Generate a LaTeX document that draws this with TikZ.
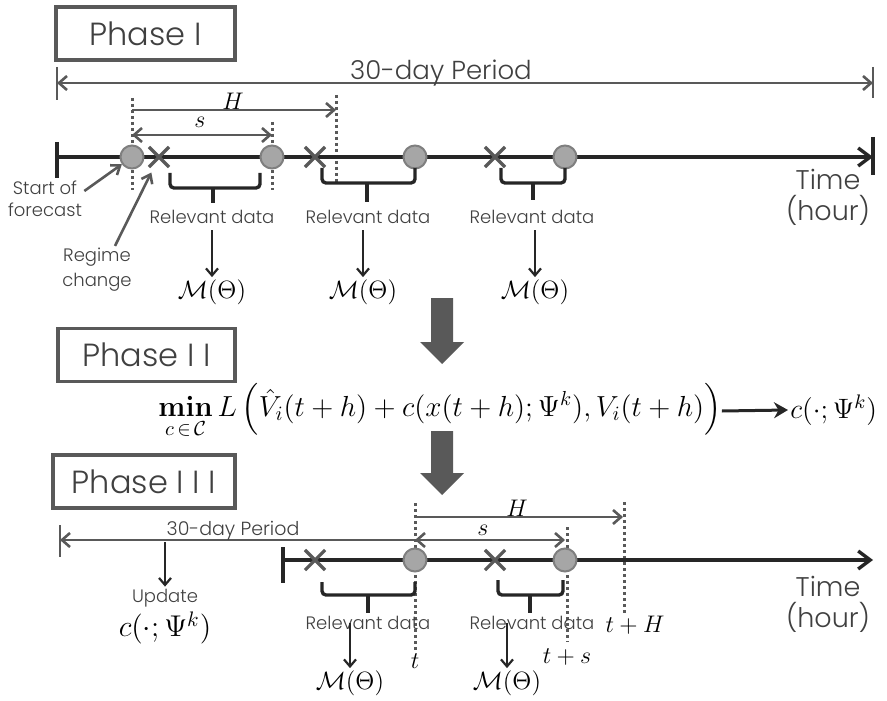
\documentclass[tikz,border=0pt]{standalone}
\usepackage{fix-cm}
\usepackage{amsmath}
\usepackage[no-math]{fontspec}
\setmainfont{Poppins}[UprightFont={* Light}]
\usetikzlibrary{arrows.meta,shapes.misc}
\definecolor{darkline}{HTML}{262626}
\definecolor{midgray}{HTML}{595959}
\definecolor{dotfill}{HTML}{A6A6A6}
\definecolor{dotedge}{HTML}{7F7F7F}
\definecolor{txtgray}{HTML}{404040}
\begin{document}
\begin{tikzpicture}
    [
    x=0.5pt, y=-0.5pt,
    phase/.style={draw=midgray,line width=1.6pt,text=txtgray,inner sep=0pt,minimum height=26.5pt,font=\fontsize{16}{19}\selectfont},
    point/.style={circle,draw=dotedge,fill=dotfill,line width=1pt,inner sep=0pt,minimum size=11.5pt},
    change/.style={cross out,draw=midgray,line width=1.6pt,inner sep=0pt,minimum size=8.5pt},
    timeline/.style={darkline,line width=1.7pt},
    span/.style={midgray,line width=1.3pt},
    guide/.style={midgray,line width=1.5pt,dash pattern=on 1.5pt off 1.5pt},
    brace/.style={darkline,line width=1.7pt,rounded corners=2pt},
    small/.style={text=txtgray,inner sep=1pt,font=\fontsize{9}{11}\selectfont},
    big/.style={text=txtgray,inner sep=1pt,font=\fontsize{13.5}{15.5}\selectfont},
    maths/.style={inner sep=1pt,font=\fontsize{12.5}{15}\selectfont},
    pointer/.style={midgray,line width=1.3pt,-{Straight Barb[length=4pt,width=6pt]}},
    down/.style={darkline,line width=1.1pt,-{Straight Barb[length=3.5pt,width=6pt]}},
    barb/.tip={Straight Barb[length=4pt,width=7pt]}
    ]
    \useasboundingbox (0,0) rectangle (887,700);
    % Phase I
    \node (ph1) at (145.5,33.5) [phase,minimum width=89.5pt] {Phase I};
    \draw [span] (57,67) -- (57,100);
    \draw [span] (873,67) -- (873,98);
    \coordinate (pl1) at (57,83);
    \coordinate (pr1) at (873,83);
    \draw [span,barb-barb] (pl1) -- (pr1);
    \node (per1) at (441,80) [anchor=base,text=txtgray,inner sep=0pt,font=\fontsize{13}{15}\selectfont] {30-day Period};
    \draw [guide] (132,98) -- (132,190);
    \draw [guide] (272,122) -- (272,190);
    \draw [guide] (336,95) -- (336,185);
    \draw [span,-barb] (132,110) -- (336,110);
    \draw [span,barb-barb] (132,135) -- (272,135);
    \node (h1) at (233,101) [maths,font=\fontsize{12}{14}\selectfont] {$H$};
    \node (s1) at (200,122) [maths,font=\fontsize{12}{14}\selectfont] {$s$};
    \draw [timeline] (57,142) -- (57,178);
    \draw [timeline] (873,137) -- (873,175);
    \coordinate (ts1) at (57,157);
    \coordinate (te1) at (873,157);
    \draw [timeline,-{Straight Barb[length=6pt,width=9pt]}] (ts1) -- (te1);
    \node (c1) at (132,157) [point] {};
    \node (c2) at (272,157) [point] {};
    \node (c3) at (415,157) [point] {};
    \node (c4) at (565,157) [point] {};
    \node (x1) at (159,157) [change] {};
    \node (x2) at (315,157) [change] {};
    \node (x3) at (495,157) [change] {};
    \draw [brace] (170,173) -- (170,188) -- (260,188) -- (260,173);
    \draw [brace] (213,187) -- (213,203);
    \draw [brace] (322,168) -- (322,183) -- (415,183) -- (415,168);
    \draw [brace] (367,182) -- (367,202);
    \draw [brace] (501,168) -- (501,183) -- (565,183) -- (565,168);
    \draw [brace] (533,182) -- (533,200);
    \node (rd1) at (212,217) [small] {Relevant data};
    \node (rd2) at (368,217) [small] {Relevant data};
    \node (rd3) at (532,217) [small] {Relevant data};
    \node (m1) at (212,292) [maths] {$\mathcal{M}(\Theta)$};
    \node (m2) at (363,292) [maths] {$\mathcal{M}(\Theta)$};
    \node (m3) at (535,292) [maths] {$\mathcal{M}(\Theta)$};
    \draw [down,shorten <=2pt] (m1 |- rd1.south) -- (m1.north);
    \draw [down,shorten <=2pt] (m2 |- rd2.south) -- (m2.north);
    \draw [down,shorten <=2pt] (m3 |- rd3.south) -- (m3.north);
    \node (sof) at (45,199) [small,align=center] {Start of\\forecast};
    \node (reg) at (97,270) [small,align=center,font=\fontsize{9}{12.5}\selectfont] {Regime\\change};
    \draw [pointer] ([yshift=4pt]sof.east) -- (c1);
    \draw [pointer,shorten >=3pt] ([xshift=9pt]reg.north) -- (x1);
    \node (time1) at (828,197) [big,align=center] {Time\\(hour)};
    % big arrows
    \fill [midgray] (431,298) -- (453,298) -- (453,342) -- (464,342) -- (442,364) -- (420,342) -- (431,342) -- cycle;
    \fill [midgray] (431,431) -- (453,431) -- (453,473) -- (464,473) -- (442,495) -- (420,473) -- (431,473) -- cycle;
    % Phase II
    \node (ph2) at (146.5,355) [phase,minimum width=88.5pt] {Phase I I};
    \node (loss) at (158,411) [anchor=west,inner sep=0pt,font=\fontsize{14.5}{17}\selectfont]
      {$\mathop{\mathbf{min}}\limits_{c\,\in\,\mathcal{C}} L\left(\hat{V}_i(t+h)+c(x(t+h);\Psi^k),V_i(t+h)\right)$};
    \node (psi1) at (788,410) [anchor=west,inner sep=1pt,font=\fontsize{14}{16}\selectfont] {$c(\cdot;\Psi^k)$};
    \draw [darkline,line width=1.5pt,-{Stealth[length=7pt,width=8pt]}] (loss.east) -- (psi1.west);
    % Phase III
    \node (ph3) at (144,481.5) [phase,minimum width=91pt] {Phase I I I};
    \draw [span] (60,525) -- (60,557);
    \coordinate (pl3) at (60,540);
    \coordinate (pr3) at (415,540);
    \draw [span,barb-] (pl3) -- (pr3);
    \node (per3) at (233,535) [anchor=base,text=txtgray,inner sep=0pt,font=\fontsize{9.5}{11}\selectfont] {30-day Period};
    \coordinate (pfoot) at (165,542);
    \node (upd) at (165,598) [small] {Update};
    \node (updc) at (165,628) [maths,font=\fontsize{15}{17}\selectfont] {$c(\cdot;\Psi^k)$};
    \draw [down] (pfoot) -- (upd.north);
    \draw [guide] (415,503) -- (415,650);
    \draw [guide] (567,527) -- (567,642);
    \draw [guide] (624,502) -- (624,613);
    \draw [span,-barb] (415,517) -- (623,517);
    \draw [span,barb-barb] (415,540) -- (565,540);
    \node (h3) at (517,508) [maths,font=\fontsize{12}{14}\selectfont] {$H$};
    \node (s3) at (483,530) [maths,font=\fontsize{12}{14}\selectfont] {$s$};
    \draw [timeline] (283,547) -- (283,583);
    \coordinate (ts3) at (283,560);
    \coordinate (te3) at (873,560);
    \draw [timeline,-{Straight Barb[length=6pt,width=9pt]}] (ts3) -- (te3);
    \node (p1) at (415,560) [point] {};
    \node (p2) at (565,560) [point] {};
    \node (y1) at (315,560) [change] {};
    \node (y2) at (495,560) [change] {};
    \draw [brace] (322,582) -- (322,595) -- (415,595) -- (415,582);
    \draw [brace] (368,594) -- (368,613);
    \draw [brace] (498,580) -- (498,595) -- (563,595) -- (563,580);
    \draw [brace] (530,594) -- (530,613);
    \node (rd4) at (368,623) [small] {Relevant data};
    \node (rd5) at (532,623) [small] {Relevant data};
    \node (m4) at (350,683) [maths] {$\mathcal{M}(\Theta)$};
    \node (m5) at (507,683) [maths] {$\mathcal{M}(\Theta)$};
    \draw [down] (m4 |- rd4.center) -- (m4.north);
    \draw [down] (m5 |- rd5.center) -- (m5.north);
    \node (t0) at (415,661) [maths,font=\fontsize{12}{14}\selectfont] {$t$};
    \node (ts) at (567,657) [maths,font=\fontsize{12}{14}\selectfont] {$t+s$};
    \node (tH) at (635,625) [maths,font=\fontsize{12}{14}\selectfont] {$t+H$};
    \node (time3) at (828,604) [big,align=center] {Time\\(hour)};
\end{tikzpicture}
\end{document}
